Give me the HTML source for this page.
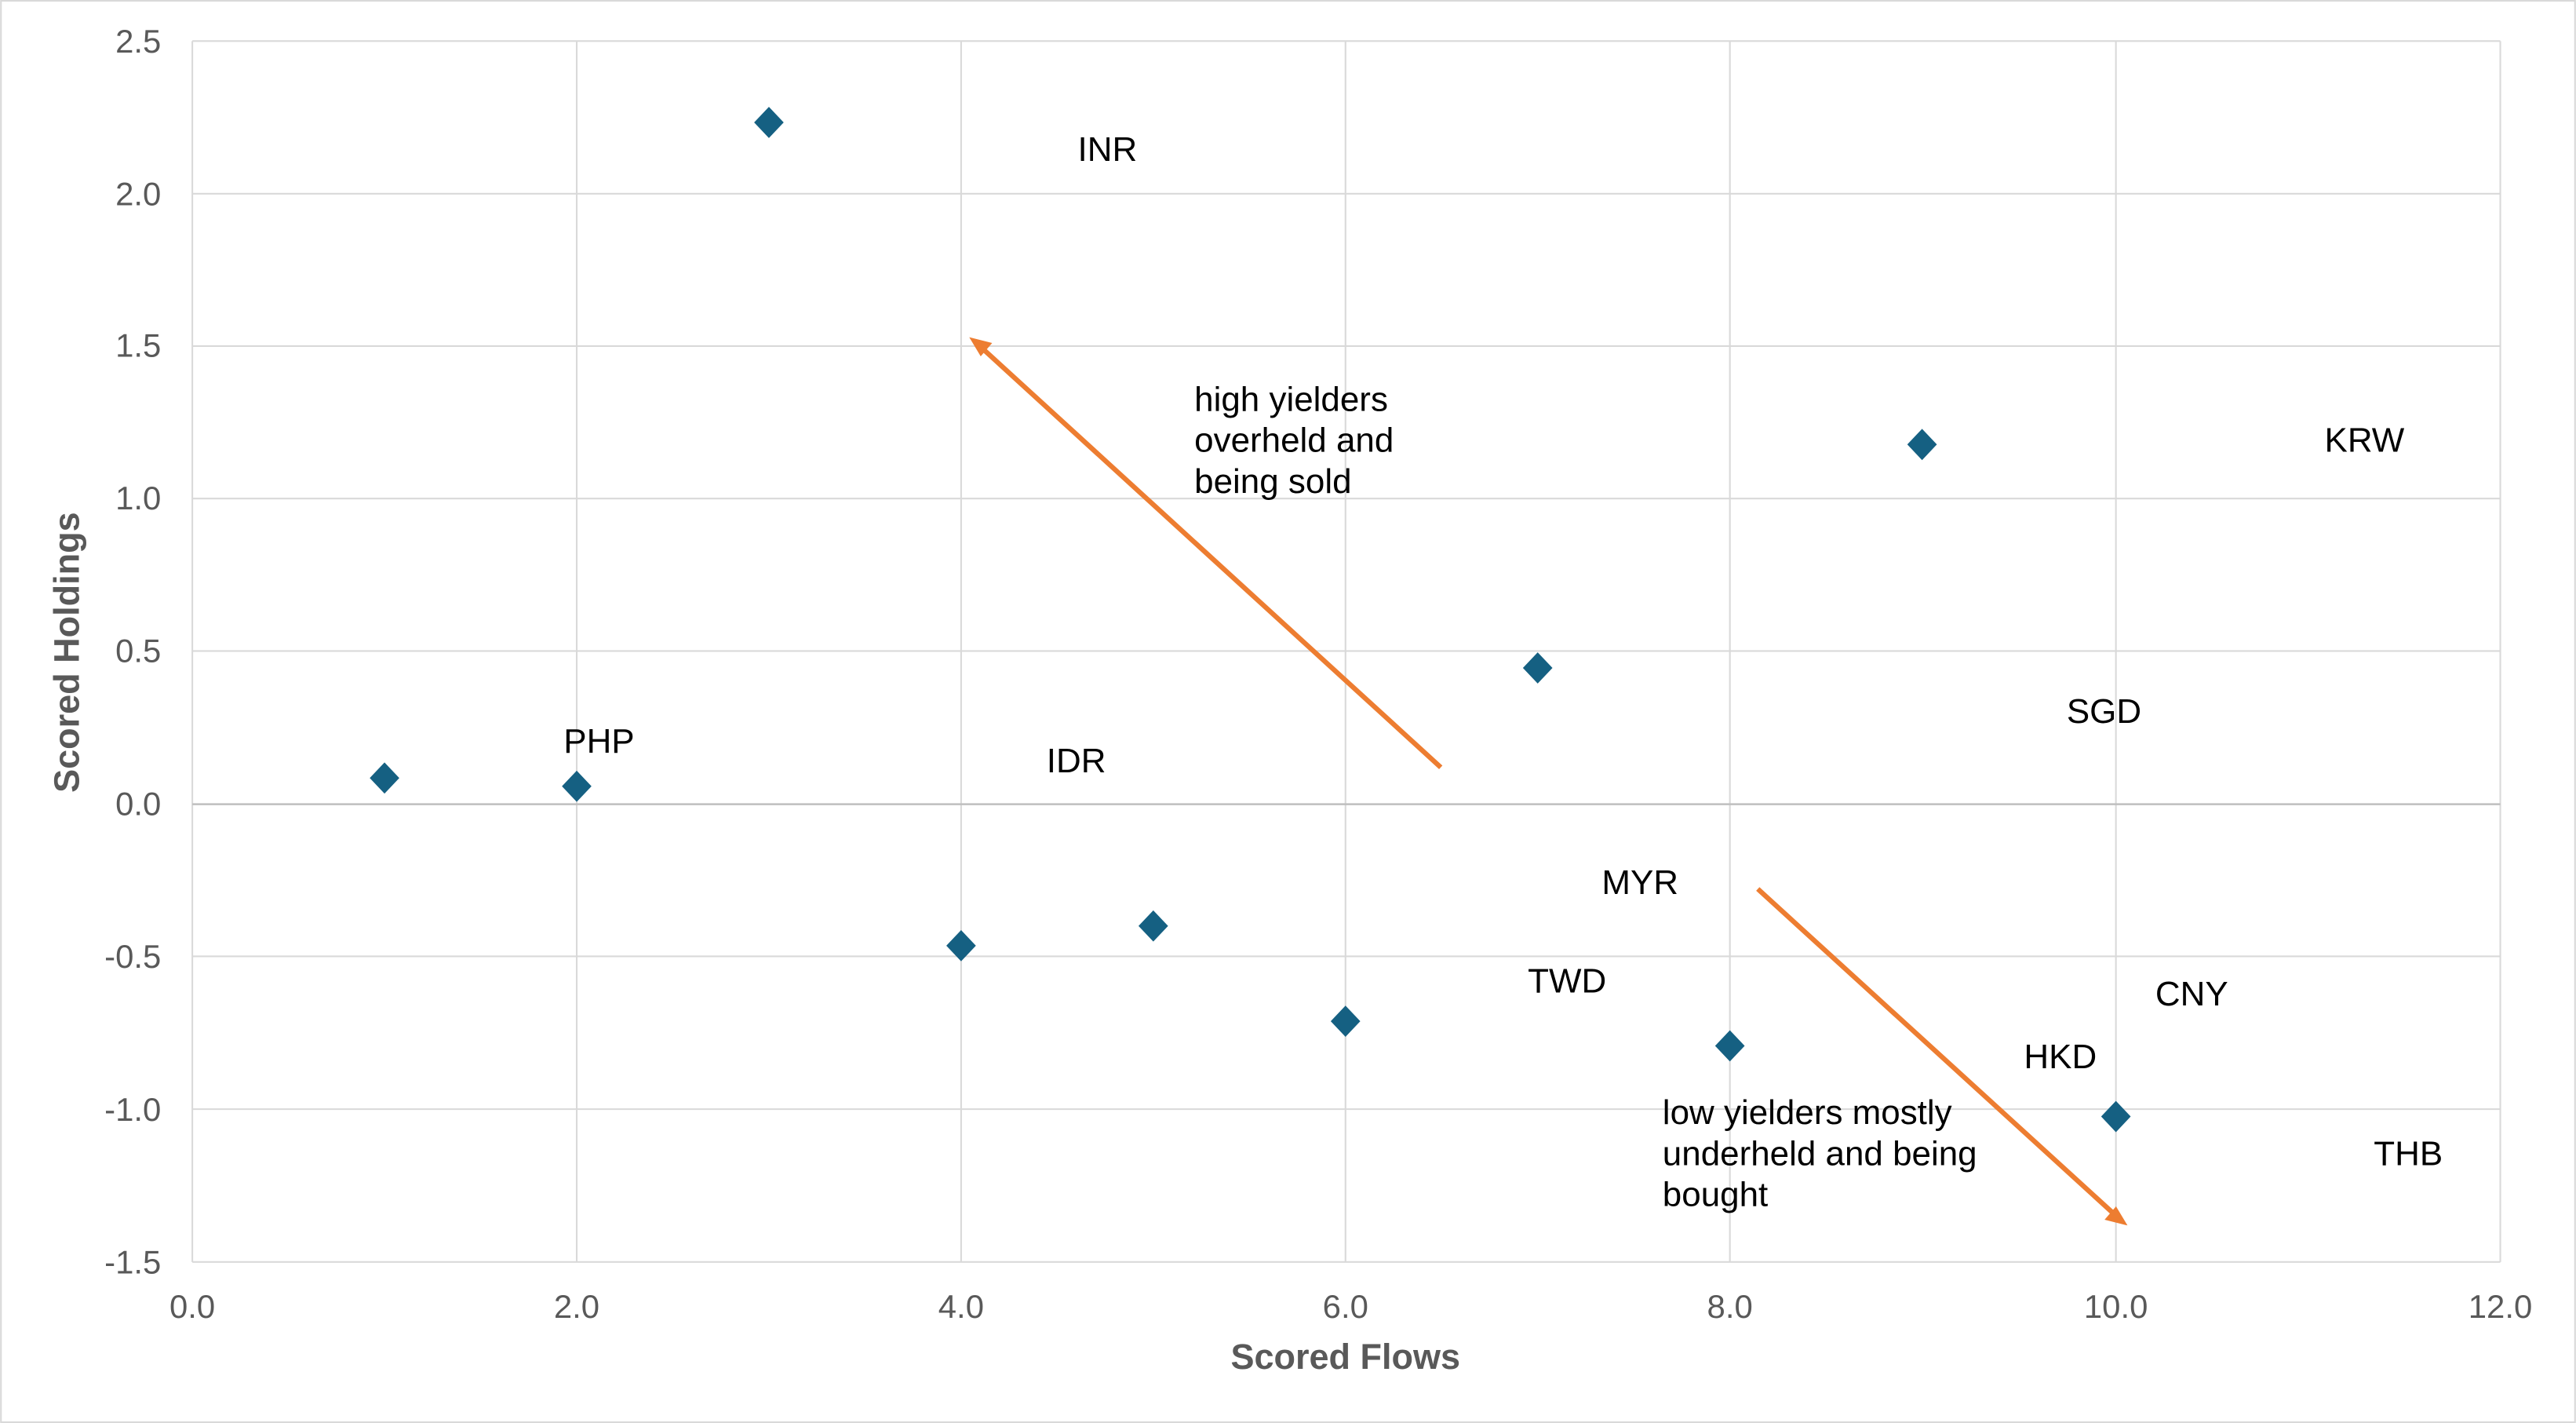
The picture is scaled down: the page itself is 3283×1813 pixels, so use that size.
<!DOCTYPE html>
<html><head><meta charset="utf-8"><style>html,body{margin:0;padding:0;background:#fff}svg{display:block}</style></head>
<body>
<svg width="3283" height="1813" viewBox="0 0 1568 866" xmlns="http://www.w3.org/2000/svg" font-family="Liberation Sans, Arial, sans-serif">
<rect x="0.5" y="0.5" width="1567" height="865" fill="#fff" stroke="#d9d9d9" stroke-width="1"/>
<g stroke="#d9d9d9" stroke-width="1">
<line x1="117" y1="25" x2="1522" y2="25"/>
<line x1="117" y1="117.9" x2="1522" y2="117.9"/>
<line x1="117" y1="210.6" x2="1522" y2="210.6"/>
<line x1="117" y1="303.4" x2="1522" y2="303.4"/>
<line x1="117" y1="396.2" x2="1522" y2="396.2"/>
<line x1="117" y1="582" x2="1522" y2="582"/>
<line x1="117" y1="675" x2="1522" y2="675"/>
<line x1="117" y1="768" x2="1522" y2="768"/>
<line x1="117" y1="25" x2="117" y2="768"/>
<line x1="351" y1="25" x2="351" y2="768"/>
<line x1="585" y1="25" x2="585" y2="768"/>
<line x1="819" y1="25" x2="819" y2="768"/>
<line x1="1053" y1="25" x2="1053" y2="768"/>
<line x1="1288" y1="25" x2="1288" y2="768"/>
<line x1="1522" y1="25" x2="1522" y2="768"/>
</g>
<line x1="117" y1="489.4" x2="1522" y2="489.4" stroke="#bfbfbf" stroke-width="1.2"/>
<g fill="#595959" font-size="20" text-anchor="end">
<text x="98" y="32">2.5</text>
<text x="98" y="125">2.0</text>
<text x="98" y="217">1.5</text>
<text x="98" y="310">1.0</text>
<text x="98" y="403">0.5</text>
<text x="98" y="496">0.0</text>
<text x="98" y="589">-0.5</text>
<text x="98" y="682">-1.0</text>
<text x="98" y="775">-1.5</text>
</g>
<g fill="#595959" font-size="20" text-anchor="middle">
<text x="117" y="802">0.0</text>
<text x="351" y="802">2.0</text>
<text x="585" y="802">4.0</text>
<text x="819" y="802">6.0</text>
<text x="1053" y="802">8.0</text>
<text x="1288" y="802">10.0</text>
<text x="1522" y="802">12.0</text>
</g>
<text x="819" y="833" fill="#595959" font-size="21.5" font-weight="bold" text-anchor="middle">Scored Flows</text>
<text transform="translate(48,397) rotate(-90)" fill="#595959" font-size="21.5" font-weight="bold" text-anchor="middle">Scored Holdings</text>
<g fill="#156082">
<path d="M234,464 l9,9.5 -9,9.5 -9,-9.5z"/>
<path d="M351,469 l9,9.5 -9,9.5 -9,-9.5z"/>
<path d="M468,65 l9,9.5 -9,9.5 -9,-9.5z"/>
<path d="M585,566 l9,9.5 -9,9.5 -9,-9.5z"/>
<path d="M702,554 l9,9.5 -9,9.5 -9,-9.5z"/>
<path d="M819,612 l9,9.5 -9,9.5 -9,-9.5z"/>
<path d="M936,397 l9,9.5 -9,9.5 -9,-9.5z"/>
<path d="M1053,627 l9,9.5 -9,9.5 -9,-9.5z"/>
<path d="M1170,261 l9,9.5 -9,9.5 -9,-9.5z"/>
<path d="M1288,670 l9,9.5 -9,9.5 -9,-9.5z"/>
</g>
<g fill="#000" font-size="21">
<text x="656" y="98">INR</text>
<text x="343" y="458">PHP</text>
<text x="637" y="470">IDR</text>
<text x="1415" y="275">KRW</text>
<text x="1258" y="440">SGD</text>
<text x="975" y="544">MYR</text>
<text x="930" y="604">TWD</text>
<text x="1312" y="612">CNY</text>
<text x="1232" y="650">HKD</text>
<text x="1445" y="709">THB</text>
<text x="727" y="250">high yielders</text>
<text x="727" y="275">overheld and</text>
<text x="727" y="300">being sold</text>
<text x="1012" y="684">low yielders mostly</text>
<text x="1012" y="709">underheld and being</text>
<text x="1012" y="734">bought</text>
</g>
<g stroke="#ED7D31" stroke-width="3" fill="#ED7D31">
<line x1="877" y1="467" x2="599" y2="213"/>
<path d="M591,206 l12,3 -6,7z" stroke-width="1"/>
<line x1="1070" y1="541" x2="1286" y2="738"/>
<path d="M1294,745 l-12,-3 6,-7z" stroke-width="1"/>
</g>
</svg>
</body></html>
